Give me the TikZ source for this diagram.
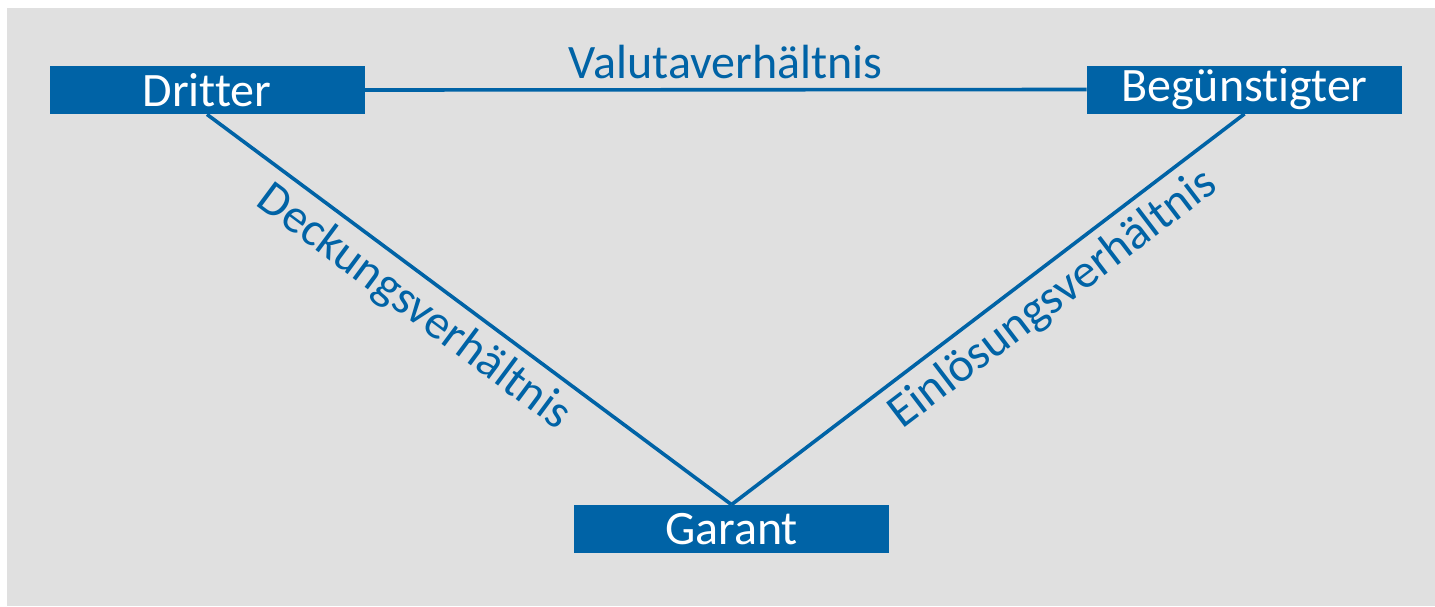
\documentclass[tikz,border=0pt]{standalone}
\usepackage{fontspec}
\setmainfont[Ligatures=NoCommon]{Carlito}
\definecolor{garblue}{HTML}{0063A6}
\definecolor{bggray}{HTML}{E0E0E0}

\begin{document}
\begin{tikzpicture}[x=0.5pt, y=-0.5pt,
    every node/.style={font=\fontsize{24}{28}\selectfont},
    party/.style={fill=garblue, text=white, minimum width=157.5pt, minimum height=24pt, inner sep=0pt},
    rel/.style={draw=garblue, line width=1.8pt},
    rellabel/.style={text=garblue, inner sep=4.5pt}]
  % Background
  \useasboundingbox[fill=white] (0,0) rectangle (1435,606);
  \fill[bggray] (7,8) rectangle (1435,606);

  % Parties
  \node[party] (dritter) at (207,90) {Dritter};
  \node[party] (beg) at (1244.5,89.5) {Begünstigter};
  \node[party] (garant) at (731.5,529) {Garant};

  % Relations
  \draw[rel] (dritter.east) -- (beg.west)
    node[rellabel, midway, above] {Valutaverhältnis};
  \draw[rel] (dritter.south) -- (garant.north)
    node[rellabel, pos=0.43, sloped, below] {Deckungsverhältnis};
  \draw[rel] (garant.north) -- (beg.south)
    node[rellabel, pos=0.59, sloped, below] {Einlösungsverhältnis};
\end{tikzpicture}
\end{document}
